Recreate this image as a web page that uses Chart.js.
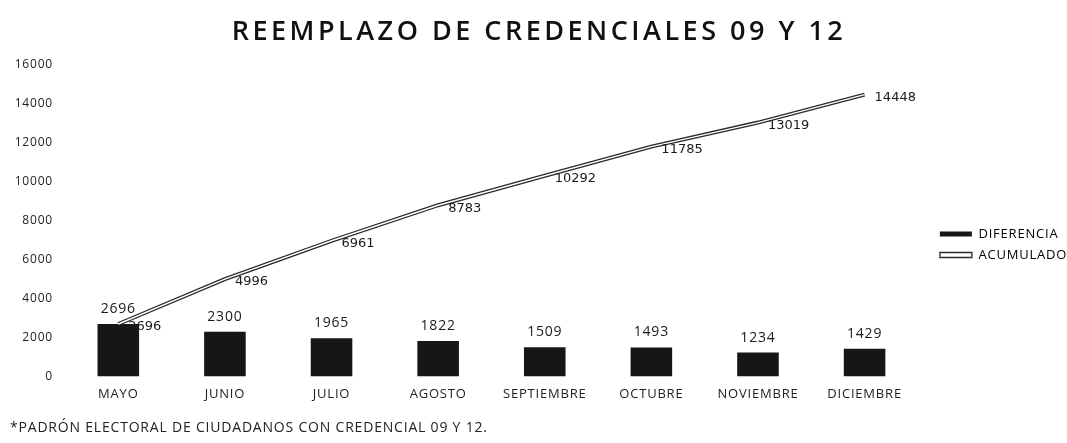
<!DOCTYPE html>
<html>
<head>
<meta charset="utf-8">
<script src="https://cdn.jsdelivr.net/npm/chart.js@4.4.1/dist/chart.umd.min.js"></script>
<style>
  html, body { margin: 0; padding: 0; background: #fff; }
  #wrap { width: 1067px; height: 443px; }
</style>
</head>
<body>
<div id="wrap"><canvas id="chart"></canvas></div>
<script>
// Data
const months = ['MAYO', 'JUNIO', 'JULIO', 'AGOSTO', 'SEPTIEMBRE', 'OCTUBRE', 'NOVIEMBRE', 'DICIEMBRE'];
const diferencia = [2696, 2300, 1965, 1822, 1509, 1493, 1234, 1429];
const acumulado = [2696, 4996, 6961, 8783, 10292, 11785, 13019, 14448];
const yTicks = [0, 2000, 4000, 6000, 8000, 10000, 12000, 14000, 16000];

// The scanned original has rather wide letter spacing
const spacing = {
  id: 'spacing',
  afterLayout(chart) {
    // widen the title only
    const t = chart.titleBlock;
    if (t && !t._wrapped) {
      const draw = t.draw.bind(t);
      t.draw = function () {
        chart.ctx.save();
        chart.ctx.letterSpacing = '3.5px';
        chart.ctx.translate(6, 0);
        draw();
        chart.ctx.restore();
      };
      t._wrapped = true;
    }
    // move the legend a bit right and down, next to the plot
    const lg = chart.legend;
    const dx = chart.chartArea.right + 14 - lg.left;
    lg.left += dx; lg.right += dx;
    lg.top += 21; lg.bottom += 21;
  },
  beforeDraw(chart) {
    chart.ctx.letterSpacing = '0.8px';
  }
};

// Value labels: above bars, to the lower right of line points
const valueLabels = {
  id: 'valueLabels',
  afterDatasetsDraw(chart) {
    const ctx = chart.ctx;
    ctx.save();
    ctx.fillStyle = '#1a1a1a';
    chart.getDatasetMeta(0).data.forEach((bar, i) => {
      ctx.font = '14px "Open Sans"';
      ctx.textAlign = 'center';
      ctx.textBaseline = 'middle';
      ctx.fillText(diferencia[i], bar.x, bar.y - 15);
    });
    ctx.letterSpacing = '0px';
    chart.getDatasetMeta(1).data.forEach((pt, i) => {
      ctx.font = '13px "DejaVu Sans"';
      ctx.textAlign = 'left';
      ctx.textBaseline = 'middle';
      ctx.fillText(acumulado[i], pt.x + 10, pt.y + 3);
    });
    ctx.restore();
  }
};

new Chart(document.getElementById('chart'), {
  type: 'bar',
  data: {
    labels: months,
    datasets: [
      {
        label: 'DIFERENCIA',
        data: diferencia,
        backgroundColor: '#161616',
        borderWidth: 0,
        barPercentage: 0.39,
        categoryPercentage: 1,
        order: 3
      },
      {
        label: 'ACUMULADO',
        type: 'line',
        data: acumulado,
        borderColor: '#2a2a2a',
        borderWidth: 4,
        pointRadius: 0,
        tension: 0,
        order: 2
      },
      {
        label: 'inner',
        type: 'line',
        data: acumulado,
        borderColor: '#ffffff',
        borderWidth: 1.4,
        pointRadius: 0,
        tension: 0,
        order: 1
      }
    ]
  },
  options: {
    responsive: true,
    maintainAspectRatio: false,
    animation: false,
    layout: { padding: { top: 8, left: 10, right: 11, bottom: 4 } },
    plugins: {
      title: {
        display: true,
        text: 'REEMPLAZO DE CREDENCIALES 09 Y 12',
        color: '#111',
        font: { family: 'Open Sans', size: 27, weight: '600' },
        padding: { top: 8, bottom: 16 }
      },
      subtitle: {
        display: true,
        position: 'bottom',
        align: 'start',
        text: '*PADRÓN ELECTORAL DE CIUDADANOS CON CREDENCIAL 09 Y 12.',
        color: '#222',
        font: { family: 'Open Sans', size: 14 },
        padding: { top: 7, bottom: 3 }
      },
      legend: {
        position: 'right',
        labels: {
          color: '#222',
          font: { family: 'Open Sans', size: 13 },
          boxWidth: 32,
          boxHeight: 5,
          padding: 8,
          generateLabels() {
            return [
              { text: 'DIFERENCIA', fillStyle: '#161616', strokeStyle: '#161616', lineWidth: 0, datasetIndex: 0 },
              { text: 'ACUMULADO', fillStyle: '#ffffff', strokeStyle: '#2a2a2a', lineWidth: 1.3, datasetIndex: 1 }
            ];
          }
        }
      },
      tooltip: { enabled: false }
    },
    scales: {
      x: {
        grid: { display: false, drawTicks: false },
        border: { display: false },
        ticks: { color: '#222', font: { family: 'Open Sans', size: 13 }, padding: 10 }
      },
      y: {
        min: 0,
        max: 16000,
        grid: { display: false, drawTicks: false },
        border: { display: false },
        afterBuildTicks: scale => { scale.ticks = yTicks.map(v => ({ value: v })); },
        afterFit: scale => { scale.width = 55; },
        ticks: {
          color: '#222',
          font: { family: 'Open Sans', size: 12 },
          padding: 12,
          callback: v => String(v)
        }
      }
    }
  },
  plugins: [spacing, valueLabels]
});
</script>
</body>
</html>
